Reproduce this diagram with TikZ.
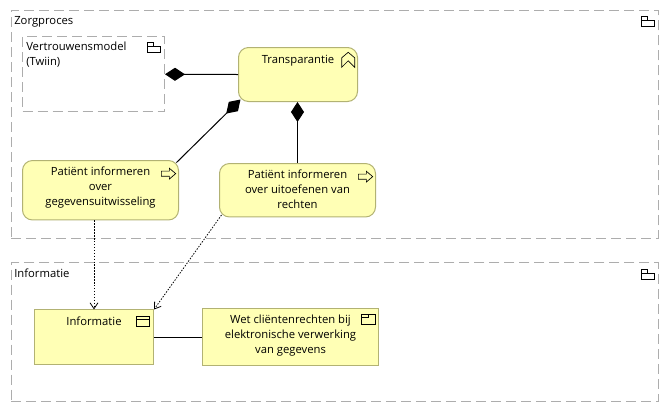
\documentclass[tikz,border=0pt]{standalone}
\usepackage{fontspec}
\setmainfont{Open Sans}
\usetikzlibrary{arrows.meta}

\definecolor{boxfill}{HTML}{FFFFB5}
\definecolor{boxline}{HTML}{B2B273}
\definecolor{frameline}{HTML}{ADADAD}

\tikzset{
  framebox/.style={draw=frameline,dash pattern=on 7.5pt off 3.75pt,line width=0.75pt,inner sep=0pt},
  appbox/.style={draw=boxline,fill=boxfill,line width=0.75pt,inner sep=0pt},
  roundbox/.style={appbox,rounded corners=7.5pt},
  boxtext/.style={anchor=north,align=center,inner sep=0pt,font=\fontsize{8.45pt}{11.4pt}\selectfont},
  frametext/.style={anchor=north west,align=left,inner sep=0pt,font=\fontsize{8.45pt}{11.4pt}\selectfont},
  comp/.style={line width=0.75pt,{Diamond[length=15pt,width=9.8pt]}-},
  access/.style={line width=0.6pt,dash pattern=on 1.1pt off 1.1pt,-{Straight Barb[length=4.5pt,width=6pt]}},
  assoc/.style={line width=0.75pt},
  icon/.style={line width=0.5pt,draw=black},
  foldericon/.pic={
    \draw[icon] (0,0) -- (0,10) -- (13.5,10) -- (13.5,4) -- (0,4);
    \draw[icon] (0,0) -- (6.5,0) -- (6.5,4);
  },
  processicon/.pic={
    \draw[icon] (0,2.8) -- (8,2.8) -- (8,0) -- (14.3,5.3) -- (8,10.7) -- (8,8) -- (0,8) -- cycle;
  },
  chevronicon/.pic={
    \draw[icon] (0,5.5) -- (6.5,0) -- (13,5.5) -- (13,15) -- (6.5,8.5) -- (0,15) -- cycle;
  },
  windowicon/.pic={
    \draw[icon] (0,0) rectangle (13.4,10);
    \draw[icon] (0,2.6) -- (13.4,2.6);
  },
  contracticon/.pic={
    \draw[icon] (0,0) rectangle (13.4,10.4);
    \draw[icon] (0,3) -- (6.7,3) -- (6.7,0);
  }
}

\begin{document}
\begin{tikzpicture}[x=0.75pt,y=-0.75pt]
  \useasboundingbox (0,0) rectangle (669,412);

  % groups
  \node[framebox,minimum width=485.6pt,minimum height=171pt] (zorg) at (334.75,124) {};
  \node[frametext] (zorgtext) at (14,16.5) {Zorgproces};
  \pic at (641,16) {foldericon};

  \node[framebox,minimum width=485.6pt,minimum height=103.9pt] (info) at (334.75,332.25) {};
  \node[frametext] (infotext) at (14,268.5) {Informatie};
  \pic at (641,269) {foldericon};

  \node[framebox,minimum width=106.5pt,minimum height=56.6pt] (trust) at (93.5,74.25) {};
  \node[frametext] (trusttext) at (26,41.5) {Vertrouwensmodel\\(Twiin)};
  \pic at (147,42.5) {foldericon};

  % elements
  \node[roundbox,minimum width=89.25pt,minimum height=40.5pt] (transp) at (298,74.5) {};
  \node[boxtext] (transptext) at (298,54.5) {Transparantie};
  \pic at (341.7,52.3) {chevronicon};

  \node[roundbox,minimum width=117pt,minimum height=44.6pt] (inform) at (100.5,190.25) {};
  \node[boxtext] (informtext) at (100.5,166.5) {Patiënt informeren\\over\\gegevensuitwisseling};
  \pic at (161.4,168.3) {processicon};

  \node[roundbox,minimum width=117pt,minimum height=40.1pt] (rights) at (297.5,190.25) {};
  \node[boxtext] (rightstext) at (297.5,169.5) {Patiënt informeren\\over uitoefenen van\\rechten};
  \pic at (358.4,171.3) {processicon};

  \node[appbox,minimum width=89.25pt,minimum height=40.9pt] (data) at (94,337.25) {};
  \node[boxtext] (datatext) at (94,316.5) {Informatie};
  \pic at (136.3,316.7) {windowicon};

  \node[appbox,minimum width=132pt,minimum height=43.1pt] (law) at (290.5,337.25) {};
  \node[boxtext] (lawtext) at (290.5,314.5) {Wet cliëntenrechten bij\\elektronische verwerking\\van gegevens};
  \pic at (361.7,314.3) {contracticon};

  % relations
  \draw[comp] (trust.east) -- (transp.west);
  \draw[comp] ([shift={(2.5,-2.5)}]transp.south west) -- ([shift={(-2.5,2.5)}]inform.north east);
  \draw[comp] (rights.north |- transp.south) -- (rights.north);
  \draw[access] (inform.south -| data.north) -- (data.north);
  \draw[access] ([shift={(2.5,-2.5)}]rights.south west) -- (data.north east);
  \draw[assoc] (data.east) -- (law.west);
\end{tikzpicture}
\end{document}
